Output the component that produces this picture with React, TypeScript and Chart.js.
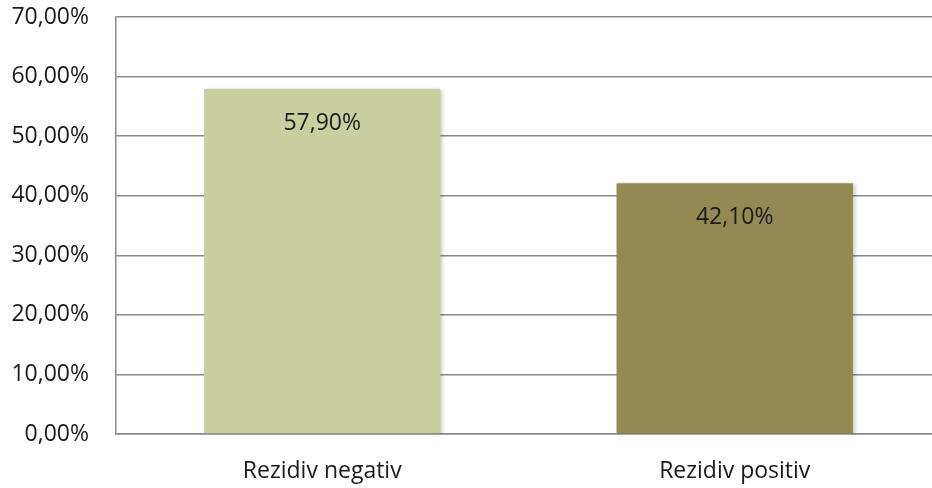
import React, { useEffect, useRef } from "react";
import { Chart, registerables } from "chart.js";

Chart.register(...registerables);

const categories = ["Rezidiv negativ", "Rezidiv positiv"];
const shares = [57.9, 42.1];
const barColors = ["#C9CFA1", "#938953"];
const yTicks = [0, 10, 20, 30, 40, 50, 60, 70];

const FONT = "'Open Sans', Lato, sans-serif";

const fmtPct = (v: number) => v.toFixed(2).replace(".", ",") + "%";

// Soft drop shadow behind the bars
const barShadow = {
  id: "barShadow",
  beforeDatasetsDraw(chart: any) {
    const ctx = chart.ctx;
    ctx.save();
    ctx.shadowColor = "rgba(0,0,0,0.22)";
    ctx.shadowBlur = 4;
    ctx.shadowOffsetX = 2;
    ctx.shadowOffsetY = 1;
  },
  afterDatasetsDraw(chart: any) {
    chart.ctx.restore();
  },
};

// Value labels placed inside each bar, below its top edge
const valueLabels = {
  id: "valueLabels",
  afterDatasetsDraw(chart: any) {
    const ctx = chart.ctx;
    const meta = chart.getDatasetMeta(0);
    ctx.save();
    ctx.font = `23px ${FONT}`;
    ctx.fillStyle = "#1a1a1a";
    ctx.textAlign = "center";
    ctx.textBaseline = "middle";
    meta.data.forEach((bar: any, i: number) => {
      ctx.fillText(fmtPct(shares[i]), bar.x, bar.y + 34);
    });
    ctx.restore();
  },
};

export default function App() {
  const ref = useRef<HTMLCanvasElement>(null);

  useEffect(() => {
    if (!ref.current) return;
    const chart = new Chart(ref.current, {
      type: "bar",
      data: {
        labels: categories,
        datasets: [
          {
            data: shares,
            backgroundColor: barColors,
            borderWidth: 0,
            categoryPercentage: 1,
            barPercentage: 0.573,
          },
        ],
      },
      options: {
        animation: false,
        responsive: false,
        devicePixelRatio: 1,
        layout: { padding: { top: 17, right: 4, bottom: 0, left: 0 } },
        plugins: { legend: { display: false }, tooltip: { enabled: false } },
        scales: {
          x: {
            grid: { display: false, drawTicks: false },
            border: { display: true, color: "#8a8a8a", width: 1.5 },
            ticks: {
              padding: 24,
              color: "#1a1a1a",
              font: { family: FONT, size: 23 },
            },
            afterFit(scale: any) {
              scale.height = 54;
              scale.paddingLeft = 0;
              scale.paddingRight = 0;
            },
          },
          y: {
            min: 0,
            max: 70,
            afterBuildTicks(scale: any) {
              scale.ticks = yTicks.map((v) => ({ value: v }));
            },
            grid: { color: "#8a8a8a", lineWidth: 1.5, drawTicks: false },
            border: { display: true, color: "#8a8a8a", width: 1.5 },
            ticks: {
              padding: 27,
              color: "#1a1a1a",
              font: { family: FONT, size: 23 },
              callback: (v: any) => fmtPct(Number(v)),
            },
            afterFit(scale: any) {
              scale.width = 116;
              scale.paddingTop = 0;
              scale.paddingBottom = 0;
            },
          },
        },
      },
      plugins: [barShadow, valueLabels],
    });
    return () => chart.destroy();
  }, []);

  return (
    <div
      style={{
        position: "absolute",
        left: 0,
        top: 0,
        width: 932,
        height: 488,
        overflow: "hidden",
        background: "#ffffff",
      }}
    >
      <canvas ref={ref} width={945} height={488} style={{ display: "block" }} />
    </div>
  );
}
